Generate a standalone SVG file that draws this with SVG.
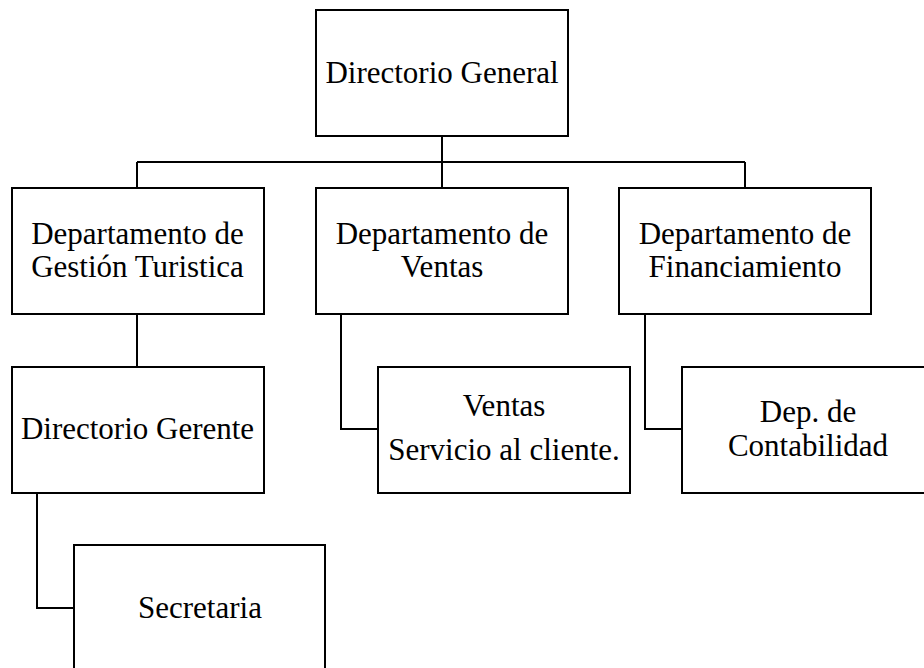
<svg xmlns="http://www.w3.org/2000/svg" width="924" height="668" viewBox="0 0 924 668">
<style>
.box{fill:#fff;stroke:#000;stroke-width:2}
.ln{fill:none;stroke:#000;stroke-width:2}
.t{font-family:'Liberation Serif','DejaVu Serif',serif;font-size:31px;fill:#000;text-anchor:middle}
</style>
<rect width="924" height="668" fill="#fff"/>
<g id="connectors">
<path class="ln" d="M442 136V188M137 162H745M137 162V188M745 162V188"/>
<path class="ln" d="M137 314V367"/>
<path class="ln" d="M37 493V608H74"/>
<path class="ln" d="M341 314V429H378"/>
<path class="ln" d="M645 314V429H682"/>
</g>
<g id="directorio-general">
<rect class="box" x="316" y="10" width="252" height="126"/>
<text class="t" x="442" y="83">Directorio General</text>
</g>
<g id="dep-gestion">
<rect class="box" x="12" y="188" width="252" height="126"/>
<text class="t" x="137.5" y="244">Departamento de</text>
<text class="t" x="137.5" y="277">Gestión Turistica</text>
</g>
<g id="dep-ventas">
<rect class="box" x="316" y="188" width="252" height="126"/>
<text class="t" x="442" y="244">Departamento de</text>
<text class="t" x="442" y="277">Ventas</text>
</g>
<g id="dep-financiamiento">
<rect class="box" x="619" y="188" width="252" height="126"/>
<text class="t" x="745" y="244">Departamento de</text>
<text class="t" x="745" y="277">Financiamiento</text>
</g>
<g id="directorio-gerente">
<rect class="box" x="12" y="367" width="252" height="126"/>
<text class="t" x="137.5" y="439">Directorio Gerente</text>
</g>
<g id="ventas">
<rect class="box" x="378" y="367" width="252" height="126"/>
<text class="t" x="504" y="416">Ventas</text>
<text class="t" x="504" y="460">Servicio al cliente.</text>
</g>
<g id="contabilidad">
<rect class="box" x="682" y="367" width="252" height="126"/>
<text class="t" x="808" y="422">Dep. de</text>
<text class="t" x="808" y="456">Contabilidad</text>
</g>
<g id="secretaria">
<rect class="box" x="74" y="545" width="251" height="126"/>
<text class="t" x="200" y="618">Secretaria</text>
</g>
</svg>
